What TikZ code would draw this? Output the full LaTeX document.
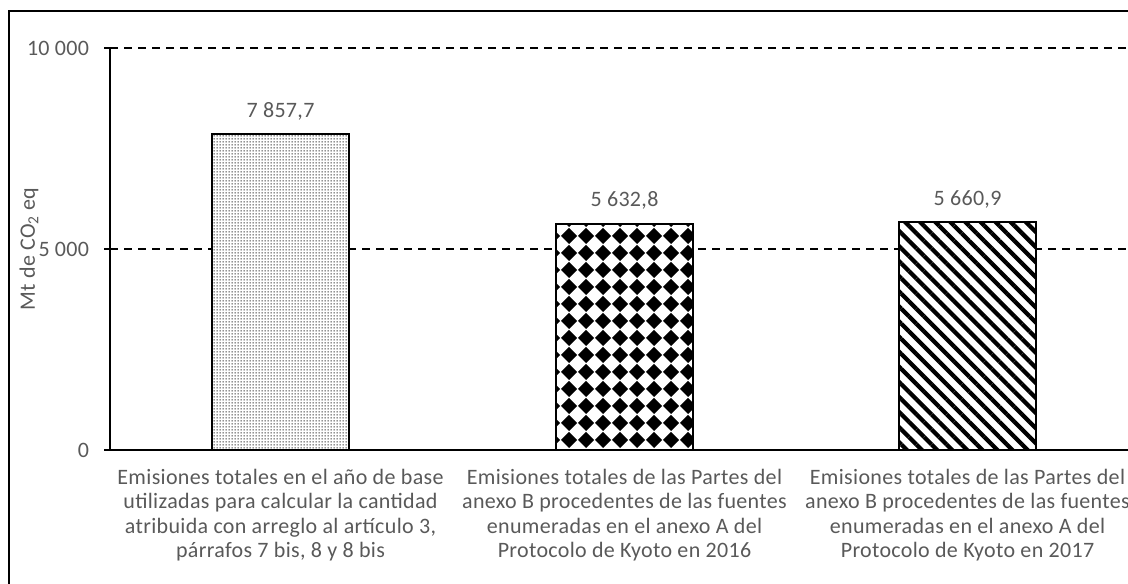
\documentclass[tikz,border=0pt]{standalone}
\usepackage{fontspec}
\setmainfont{Carlito}[LetterSpace=1.5]
\usetikzlibrary{positioning,patterns.meta}
\definecolor{textgray}{HTML}{595959}
\tikzdeclarepattern{name=finedots,type=uncolored,bounding box={(0pt,0pt) and (2.25pt,2.25pt)},tile size={(2.25pt,2.25pt)},code={\fill (0.55pt,0.55pt) rectangle (1.6pt,1.6pt);}}
\tikzdeclarepattern{name=diamonds,type=uncolored,bounding box={(0pt,0pt) and (12.75pt,12.75pt)},tile size={(12.75pt,12.75pt)},code={\fill (6.375pt,0pt) -- (12.75pt,6.375pt) -- (6.375pt,12.75pt) -- (0pt,6.375pt) -- cycle;}}
\tikzset{barbox/.style={rectangle,draw=black,line width=1.5pt,preaction={fill=white},minimum width=102.75pt,inner sep=0pt,outer sep=0pt,anchor=south}}
\tikzset{barvalue/.style={text=textgray,font=\fontsize{16.5pt}{18pt}\selectfont,inner sep=2pt}}
\tikzset{catlabel/.style={text=textgray,font=\fontsize{16.5pt}{18.4pt}\selectfont,align=center,inner sep=3pt}}
\tikzset{ticklabel/.style={text=textgray,font=\fontsize{16.5pt}{18pt}\selectfont,anchor=east,inner sep=2pt}}
\tikzset{gridline/.style={dash pattern=on 6pt off 4.5pt,line width=1.5pt}}
\tikzset{axisline/.style={line width=1.5pt}}

\begin{document}
\begin{tikzpicture}[x=0.75pt,y=-0.75pt]
\useasboundingbox (0,0) rectangle (1128,584);
% frame
\draw[axisline] (9,584) -- (9,11) -- (1128,11);
% grid and axis
\draw[gridline] (110,48) -- (1128,48);
\draw[gridline] (110,249) -- (1128,249);
\draw[axisline] (110,48) -- (110,450);
\draw[axisline] (104,450) -- (1128,450);
\draw[axisline] (104,48) -- (110,48);
\draw[axisline] (104,249) -- (110,249);
\node (t10) [ticklabel] at (92,48) {10 000};
\node (t5) [ticklabel] at (92,249) {5 000};
\node (t0) [ticklabel] at (92,450) {0};
\node (ylab) [ticklabel,anchor=center,rotate=90] at (29,249) {Mt de CO\textsubscript{2} eq};
% bars
\begin{scope}[node distance=8.5pt]
	\node (base) [barbox,pattern=finedots,minimum height=236.9pt] at (280.5,450) {};
	\node (y2016) [barbox,pattern=diamonds,minimum height=169.8pt] at (624.5,450) {};
	\node (y2017) [barbox,pattern={Lines[angle=-45,distance=8pt,line width=3.2pt]},minimum height=170.7pt] at (967.5,450) {};
	\node (vbase) [barvalue,above=of base] {7 857,7};
	\node (v2016) [barvalue,above=of y2016] {5 632,8};
	\node (v2017) [barvalue,above=of y2017] {5 660,9};
\end{scope}
\begin{scope}[node distance=11pt]
	\node (cbase) [catlabel,below=of base] {Emisiones totales en el año de base\\utilizadas para calcular la cantidad\\atribuida con arreglo al artículo 3,\\párrafos 7 bis, 8 y 8 bis};
	\node (c2016) [catlabel,below=of y2016] {Emisiones totales de las Partes del\\anexo B procedentes de las fuentes\\enumeradas en el anexo A del\\Protocolo de Kyoto en 2016};
	\node (c2017) [catlabel,below=of y2017] {Emisiones totales de las Partes del\\anexo B procedentes de las fuentes\\enumeradas en el anexo A del\\Protocolo de Kyoto en 2017};
\end{scope}
\end{tikzpicture}
\end{document}
